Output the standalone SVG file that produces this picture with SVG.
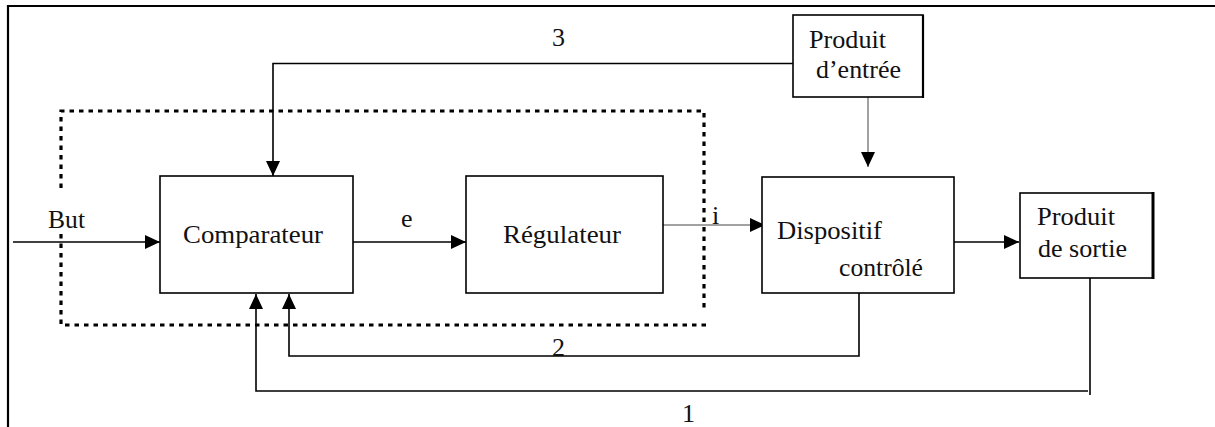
<svg xmlns="http://www.w3.org/2000/svg" width="1215" height="427" viewBox="0 0 1215 427">
<style>
.box{fill:#fff;stroke:#000;stroke-width:1.6}
.t{font-family:"Liberation Serif","Times New Roman",serif;font-size:26px;fill:#111}
.c{fill:none;stroke:#000;stroke-width:1.6}
.thin{fill:none;stroke:#444;stroke-width:1}
.dot{fill:none;stroke:#000;stroke-width:3.2;stroke-dasharray:4.5 5}
</style>
<defs>
<marker id="ah" markerWidth="15" markerHeight="14" refX="15" refY="7" orient="auto" markerUnits="userSpaceOnUse">
<path d="M0,0 L15,7 L0,14 Z" fill="#000"/>
</marker>
</defs>
<rect width="1215" height="427" fill="#fff"/>
<g id="frame">
<line x1="7" y1="6" x2="1215" y2="6" stroke="#000" stroke-width="2.2"/>
<line x1="8" y1="5" x2="8" y2="427" stroke="#000" stroke-width="2.2"/>
</g>
<g id="boundary">
<path class="dot" d="M61,188 L61,111 L704,111 L704,308"/>
<path class="dot" d="M61,234 L61,325 L706,325"/>
</g>
<g id="connectors">
<line class="c" x1="13" y1="242" x2="160" y2="242" marker-end="url(#ah)"/>
<line class="c" x1="353" y1="242" x2="466" y2="242" marker-end="url(#ah)"/>
<line class="thin" x1="663" y1="225" x2="765" y2="225" marker-end="url(#ah)"/>
<line class="c" x1="954" y1="242" x2="1019" y2="242" marker-end="url(#ah)"/>
<path class="c" d="M793,63.5 L273,63.5 L273,176" marker-end="url(#ah)"/>
<line class="thin" x1="868" y1="87" x2="868" y2="167" marker-end="url(#ah)"/>
<path class="c" d="M859,293 L859,356 L289,356 L289,294" marker-end="url(#ah)"/>
<line class="c" x1="1090" y1="272" x2="1090" y2="395"/>
<path class="c" d="M1088,391 L256,391 L256,294" marker-end="url(#ah)"/>
</g>
<g id="comparateur">
<rect class="box" x="160" y="176" width="193" height="117"/>
<text class="t" x="183" y="243" textLength="140" lengthAdjust="spacingAndGlyphs">Comparateur</text>
</g>
<g id="regulateur">
<rect class="box" x="466" y="176" width="197" height="117"/>
<text class="t" x="503" y="243" textLength="118" lengthAdjust="spacingAndGlyphs">Régulateur</text>
</g>
<g id="dispositif">
<rect class="box" x="762" y="177" width="192" height="116"/>
<text class="t" x="777" y="239" textLength="105" lengthAdjust="spacingAndGlyphs">Dispositif</text>
<text class="t" x="839" y="276" textLength="84" lengthAdjust="spacingAndGlyphs">contrôlé</text>
</g>
<g id="produit-entree">
<rect class="box" x="793" y="15" width="130" height="82"/>
<line x1="923" y1="15" x2="923" y2="98" stroke="#000" stroke-width="2.2"/>
<text class="t" x="809" y="48" textLength="77" lengthAdjust="spacingAndGlyphs">Produit</text>
<text class="t" x="816" y="78" textLength="85" lengthAdjust="spacingAndGlyphs">d’entrée</text>
</g>
<g id="produit-sortie">
<rect class="box" x="1020" y="193" width="133" height="85"/>
<line x1="1153" y1="192" x2="1153" y2="279" stroke="#000" stroke-width="3"/>
<text class="t" x="1037" y="225" textLength="78" lengthAdjust="spacingAndGlyphs">Produit</text>
<text class="t" x="1038" y="257" textLength="89" lengthAdjust="spacingAndGlyphs">de sortie</text>
</g>
<g id="labels">
<rect x="44" y="206" width="44" height="27" fill="#fff"/>
<text class="t" x="48" y="228" textLength="37" lengthAdjust="spacingAndGlyphs">But</text>
<text class="t" x="552" y="46">3</text>
<text class="t" x="401" y="227">e</text>
<text class="t" x="712" y="224">i</text>
<text class="t" x="552" y="356">2</text>
<text class="t" x="682" y="422">1</text>
</g>
</svg>
